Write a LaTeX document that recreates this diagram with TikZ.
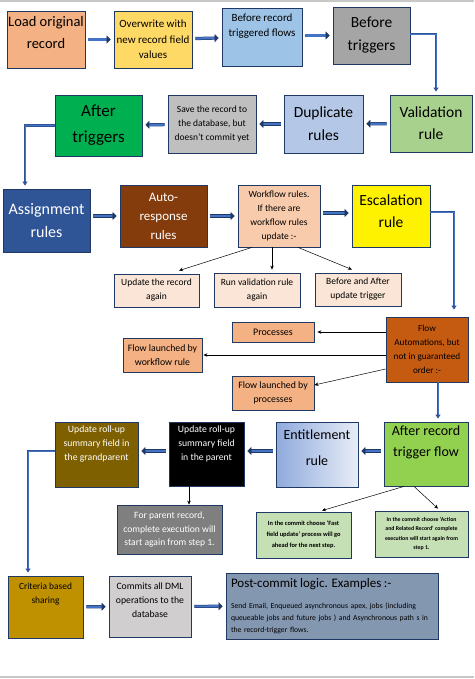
\documentclass[tikz,border=0pt]{standalone}
\usepackage{fontspec}
\setmainfont{Carlito}
\usetikzlibrary{arrows.meta}

\definecolor{edge}{HTML}{1F3864}
\definecolor{linkblue}{HTML}{2F5597}
\definecolor{linklight}{HTML}{4472C4}
\definecolor{salmon}{HTML}{F4B183}
\definecolor{gold}{HTML}{FFD966}
\definecolor{skyblue}{HTML}{9DC3E6}
\definecolor{midgray}{HTML}{A5A5A5}
\definecolor{lightgreen}{HTML}{A9D18E}
\definecolor{paleblue}{HTML}{B4C7E7}
\definecolor{silver}{HTML}{BFBFBF}
\definecolor{brightgreen}{HTML}{00B050}
\definecolor{navyfill}{HTML}{2F5597}
\definecolor{brown}{HTML}{843C0C}
\definecolor{peach}{HTML}{F8CBAD}
\definecolor{lightpeach}{HTML}{FBE5D6}
\definecolor{rust}{HTML}{C55A11}
\definecolor{lime}{HTML}{92D050}
\definecolor{entleft}{HTML}{8FAADC}
\definecolor{entright}{HTML}{E8EDF7}
\definecolor{olive}{HTML}{7F6000}
\definecolor{darkgray}{HTML}{7F7F7F}
\definecolor{mint}{HTML}{C5E0B4}
\definecolor{mustard}{HTML}{BF9000}
\definecolor{stone}{HTML}{D0CECE}
\definecolor{slate}{HTML}{8497B0}
\definecolor{pageline}{HTML}{C8C8C8}

\newcommand{\fsz}[2]{\fontsize{#1}{#2}\selectfont}

\begin{document}
\begin{tikzpicture}[x=1pt, y=-1pt,
		box/.style={draw=edge, line width=0.8pt, align=center, inner sep=1pt},
		size/.style 2 args={minimum width=#1pt, minimum height=#2pt},
		lift/.style={text depth=#1},
		flowarrow/.style={draw=edge, line width=0.5pt, double=linklight, double distance=2.2pt, -{Triangle[length=4pt, width=8pt]}, shorten <=3pt, shorten >=3pt},
		elbow/.style={draw=linkblue, line width=0.9pt, double=linklight, double distance=0.8pt, -{Triangle[length=4pt, width=5pt]}},
		link/.style={draw=black, line width=0.5pt, -{Stealth[length=4pt, width=3.5pt]}}
	]
	\useasboundingbox (0,0) rectangle (474,679);
	\draw[pageline, line width=1.5pt] (0,1) -- (474,1);
	\draw[pageline, line width=1.5pt] (0,677) -- (474,677);

	% first row
	\node[box, fill=salmon, size={78}{57}, font=\fsz{14.5}{22}, lift=14pt] (load) at (46,39.5) {Load original\\record};
	\node[box, fill=gold, size={78}{57}, font=\fsz{11}{15.5}] (over) at (153,39.5) {Overwrite with\\new record field\\values};
	\node[box, fill=skyblue, size={80}{58}, font=\fsz{11}{15.5}, lift=24pt] (brtf) at (262,37) {Before record\\triggered flows};
	\node[box, fill=midgray, size={77}{57}, font=\fsz{15.5}{23}] (btrig) at (371.5,35.5) {Before\\triggers};

	\draw[flowarrow] (load) -- (over);
	\draw[flowarrow] (over) -- (brtf);
	\draw[flowarrow] (brtf.east |- btrig) -- (btrig);

	% second row
	\node[box, fill=lightgreen, size={82}{57}, font=\fsz{15.5}{22}] (valid) at (431,123.5) {Validation\\rule};
	\node[box, fill=paleblue, size={79}{58}, font=\fsz{15.5}{23}] (dup) at (323.5,124) {Duplicate\\rules};
	\node[box, fill=silver, size={88}{58}, font=\fsz{9.5}{14}] (save) at (212,124) {Save the record to\\the database, but\\doesn’t commit yet};
	\node[box, fill=brightgreen, size={87}{61}, font=\fsz{17}{26}] (atrig) at (98.5,125.5) {After\\triggers};

	\draw[elbow] ([yshift=1.5pt]btrig.east) -| ([xshift=5pt, yshift=3pt]valid.north);
	\draw[flowarrow] (valid) -- (dup);
	\draw[flowarrow] (dup) -- (save);
	\draw[flowarrow] (save) -- (atrig);

	% third row
	\node[box, fill=navyfill, text=white, size={87}{63}, font=\fsz{16}{23}] (assign) at (46.5,220.5) {Assignment\\rules};
	\node[box, fill=brown, text=white, size={87}{62}, font=\fsz{13}{19}] (auto) at (163.5,216) {Auto-\\response\\rules};
	\node[box, fill=peach, size={82}{62}, font=\fsz{9.5}{14.3}] (wf) at (279,216) {Workflow rules.\\If there are\\workflow rules\\update :-};
	\node[box, fill=yellow, size={78}{62}, font=\fsz{15.5}{22.5}, lift=10pt] (esc) at (391,216) {Escalation\\rule};

	\draw[elbow] (atrig.west) -| ([xshift=-21.5pt, yshift=3pt]assign.north);
	\draw[flowarrow] (assign.east |- auto) -- (auto);
	\draw[flowarrow] (auto) -- (wf);
	\draw[flowarrow] ([yshift=3pt]wf.east) -- ([yshift=3pt]esc.west);

	\node[box, fill=lightpeach, size={85}{33}, font=\fsz{9.5}{14}] (upd) at (156.5,290.5) {Update the record\\again};
	\node[box, fill=lightpeach, size={86}{34}, font=\fsz{9.5}{14}] (runv) at (257,290) {Run validation rule\\again};
	\node[box, fill=lightpeach, size={86}{33}, font=\fsz{9.5}{14}] (baut) at (358,289.5) {Before and After\\update trigger};

	\draw[link] ([xshift=-27pt]wf.south) -- ([xshift=22.5pt, yshift=3pt]upd.north);
	\draw[link] ([xshift=-7pt]wf.south) -- ([xshift=15pt, yshift=3pt]runv.north);
	\draw[link] ([xshift=19pt]wf.south) -- ([xshift=-6pt, yshift=3pt]baut.north);

	% flow automations
	\node[box, fill=rust, size={82}{65}, font=\fsz{9.2}{14}] (fauto) at (427,349.5) {Flow\\Automations, but\\not in guaranteed\\order :-};
	\node[box, fill=salmon, size={82}{20}, font=\fsz{10}{14}] (proc) at (273,332) {Processes};
	\node[box, fill=salmon, size={79}{34}, font=\fsz{9.8}{14}] (flwf) at (162.5,355) {Flow launched by\\workflow rule};
	\node[box, fill=salmon, size={82}{34}, font=\fsz{9.8}{14}] (flpr) at (273,393) {Flow launched by\\processes};

	\draw[elbow] ([yshift=4pt]esc.east) -| ([xshift=27pt, yshift=7pt]fauto.north);
	\draw[link] (proc.east -| fauto.west) -- ([xshift=3pt]proc.east);
	\draw[link] (flwf.east -| fauto.west) -- ([xshift=1pt]flwf.east);
	\draw[link] ([yshift=-19.5pt]fauto.west) -- ([yshift=8pt]flpr.east);

	% fifth row
	\node[box, fill=lime, size={84}{64}, font=\fsz{14}{21}, lift=25pt] (arflow) at (426,454) {After record\\trigger flow};
	\node[box, left color=entleft, right color=entright, size={82}{65}, font=\fsz{14}{26}, lift=14pt] (entit) at (317,454.5) {Entitlement\\rule};
	\node[box, fill=black, text=white, size={75}{64}, font=\fsz{9.7}{14}, lift=22pt] (rparent) at (206.5,454) {Update roll-up\\summary field\\in the parent};
	\node[box, fill=olive, text=white, size={83}{65}, font=\fsz{9.7}{14}, lift=22pt] (rgrand) at (96.5,454.5) {Update roll-up\\summary field in\\the grandparent};
	\coordinate (rowfive) at ([yshift=3.5pt]rgrand.east);

	\draw[elbow] ([xshift=11pt]fauto.south) -- ([xshift=11pt, yshift=3pt]fauto.south |- arflow.north);
	\draw[flowarrow] (arflow.west |- rowfive) -- (entit.east |- rowfive);
	\draw[flowarrow] (entit.west |- rowfive) -- (rparent.east |- rowfive);
	\draw[flowarrow] (rparent.west |- rowfive) -- (rowfive);

	\node[box, fill=darkgray, text=white, size={105}{49}, font=\fsz{9.6}{13.7}] (forpar) at (169.5,529.5) {For parent record,\\complete execution will\\start again from step 1.};
	\node[box, fill=mint, size={95}{46}, font=\fsz{6.4}{11}\bfseries] (fast) at (303.5,535) {In the commit choose ‘Fast\\field update’ process will go\\ahead for the next step.};
	\node[box, fill=mint, size={93}{46}, font=\fsz{5.8}{9.5}\bfseries] (actrel) at (421.5,534) {In the commit choose ‘Action\\and Related Record’ complete\\execution will start again from\\step 1.};

	\draw[link] ([xshift=-17.5pt]rparent.south) -- ([xshift=19.5pt]forpar.north);
	\draw[link] ([xshift=-22pt]arflow.south) -- ([xshift=18.5pt, yshift=1pt]fast.north);
	\draw[link] ([xshift=-12pt]arflow.south) -- ([xshift=16.5pt, yshift=2pt]actrel.north);

	% last row
	\node[box, fill=mustard, size={75}{62}, font=\fsz{9.4}{14}, lift=28pt] (crit) at (45.5,607) {Criteria based\\sharing};
	\node[box, fill=stone, size={82}{61}, font=\fsz{9.7}{14}, lift=12pt] (commit) at (150,606.5) {Commits all DML\\operations to the\\database};
	\node[box, fill=slate, size={212}{66}, align=left, text width=202pt, inner xsep=4pt, font=\fsz{7.7}{12}] (post) at (332,606) {{\fsz{13}{16}Post-commit logic. Examples :-}\\[9pt]Send Email, Enqueued asynchronous apex, jobs (including\\queueable jobs and future jobs ) and Asynchronous path s in\\the record-trigger flows.};

	\draw[elbow] ([yshift=3.5pt]rgrand.west) -| ([xshift=-17.5pt, yshift=3pt]crit.north);
	\draw[flowarrow] (crit) -- (commit);
	\draw[flowarrow] (commit) -- (post);
\end{tikzpicture}
\end{document}
